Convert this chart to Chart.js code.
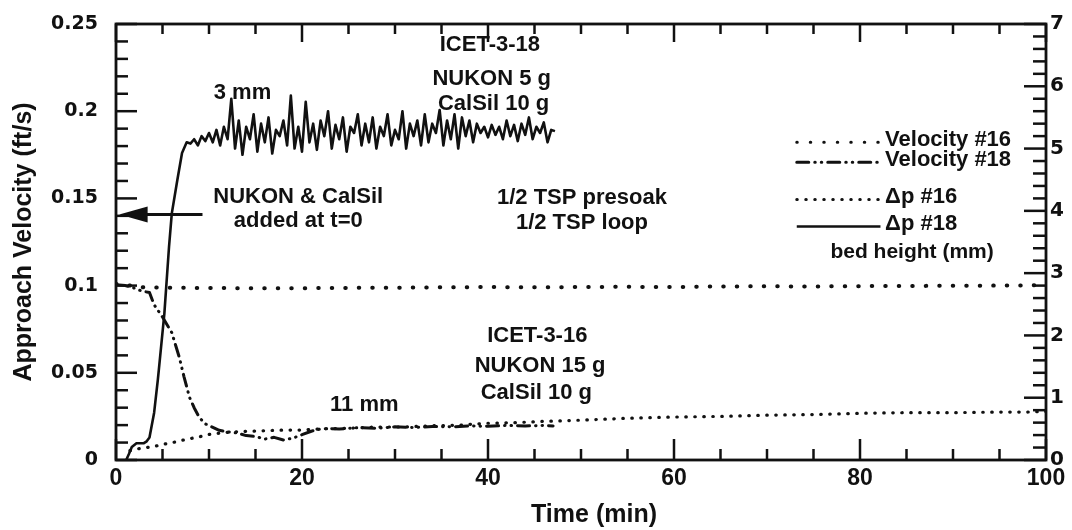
<!DOCTYPE html>
<html>
<head>
<meta charset="utf-8">
<script src="https://cdn.jsdelivr.net/npm/chart.js@4.4.1/dist/chart.umd.min.js"></script>
<style>
  html, body { margin: 0; padding: 0; background: #ffffff; }
  canvas { display: block; }
</style>
</head>
<body>
<canvas id="c" width="1072" height="530"></canvas>
<script>
// ---------------- DATA ----------------
// Velocity #16 (ft/s, left axis)
const vel16Time  = [0, 1, 2, 3, 5, 10, 15, 20, 25, 30, 35, 40, 45, 50, 55, 60, 65, 70, 75, 80, 85, 90, 95, 100];
const vel16Value = [0.101, 0.1005, 0.0995, 0.099, 0.0988, 0.0986, 0.0985, 0.0985, 0.0987, 0.0988, 0.099, 0.0992, 0.099, 0.0992, 0.0993, 0.0992, 0.0995, 0.0996, 0.0995, 0.0997, 0.0998, 0.0999, 0.1, 0.1002];

// Velocity #18 (ft/s, left axis)
const vel18Time  = [0, 1, 2, 2.7, 3.6, 4.1, 5.0, 6.0, 6.8, 7.3, 7.9, 8.4, 8.9, 9.5, 10.3, 11.1, 12, 13, 14, 15, 16, 17, 18, 19, 20, 21, 22, 23, 24, 26, 28, 30, 32, 34, 36, 38, 40, 42, 44, 46, 47];
const vel18Value = [0.1005, 0.1, 0.0985, 0.097, 0.096, 0.089, 0.082, 0.073, 0.059, 0.048, 0.036, 0.03, 0.025, 0.021, 0.019, 0.017, 0.0162, 0.0155, 0.014, 0.0135, 0.012, 0.013, 0.0115, 0.0125, 0.0145, 0.0165, 0.0178, 0.018, 0.0178, 0.0185, 0.0182, 0.019, 0.0186, 0.0192, 0.019, 0.0195, 0.0193, 0.0198, 0.0195, 0.0198, 0.0195];

// Δp #16 (right axis)
const dp16Time  = [1.5, 2.7, 3.9, 5, 6.4, 7.5, 8.9, 10, 11.1, 12.5, 14, 16, 18, 20, 22, 25, 28, 31, 34, 37, 40, 43, 46, 50, 55, 60, 65, 70, 75, 80, 85, 90, 95, 98, 100];
const dp16Value = [0.15, 0.19, 0.21, 0.25, 0.29, 0.33, 0.37, 0.41, 0.43, 0.45, 0.46, 0.47, 0.48, 0.48, 0.5, 0.51, 0.53, 0.53, 0.55, 0.56, 0.59, 0.6, 0.62, 0.64, 0.67, 0.69, 0.7, 0.72, 0.73, 0.75, 0.76, 0.76, 0.77, 0.77, 0.78];

// Δp #18 (right axis)
const dp18Time = [1.1, 1.4, 1.7, 2.2, 3.0, 3.3, 3.6, 4.1, 4.5, 4.6, 5.2, 5.7, 6.0, 6.6, 7.1, 7.6,
  8.0, 8.4, 8.8, 9.2, 9.6, 10.0, 10.4, 10.8, 11.2, 11.6, 12.0, 12.4, 12.8, 13.2, 13.6, 14.0, 14.4, 14.8, 15.2, 15.6,
  16.0, 16.4, 16.8, 17.2, 17.6, 18.0, 18.4, 18.8, 19.2, 19.6, 20.0, 20.4, 20.8, 21.2, 21.6, 22.0, 22.4, 22.8, 23.2, 23.6,
  24.0, 24.4, 24.8, 25.2, 25.6, 26.0, 26.4, 26.8, 27.2, 27.6, 28.0, 28.4, 28.8, 29.2, 29.6, 30.0, 30.4, 30.8, 31.2, 31.6,
  32.0, 32.4, 32.8, 33.2, 33.6, 34.0, 34.4, 34.8, 35.2, 35.6, 36.0, 36.4, 36.8, 37.2, 37.6, 38.0, 38.4, 38.8, 39.2, 39.6,
  40.0, 40.4, 40.8, 41.2, 41.6, 42.0, 42.4, 42.8, 43.2, 43.6, 44.0, 44.4, 44.8, 45.2, 45.6, 46.0, 46.4, 46.8, 47.2];
const dp18Value = [0, 0.1, 0.21, 0.27, 0.27, 0.3, 0.36, 0.76, 1.29, 1.44, 2.35, 3.42, 3.96, 4.5, 4.93, 5.1,
  5.08, 5.15, 5.05, 5.2, 5.12, 5.25, 5.1, 5.3, 5.05, 5.35, 5.15, 5.8, 5.0, 5.45, 4.9, 5.35, 5.15, 5.55, 4.95, 5.4,
  5.1, 5.5, 4.92, 5.3, 5.2, 5.45, 5.05, 5.85, 5.0, 5.35, 4.95, 5.75, 5.1, 5.4, 4.98, 5.45, 5.2, 5.6, 5.0, 5.38,
  5.15, 5.5, 4.95, 5.35, 5.25, 5.55, 5.05, 5.4, 5.1, 5.5, 5.0, 5.35, 5.2, 5.55, 5.05, 5.3, 5.15, 5.6, 5.0, 5.4,
  5.2, 5.45, 5.05, 5.55, 5.1, 5.4, 5.25, 5.62, 5.05, 5.45, 5.15, 5.55, 5.0, 5.5, 5.2, 5.45, 5.1, 5.4, 5.25, 5.35,
  5.18, 5.38, 5.22, 5.35, 5.15, 5.45, 5.2, 5.38, 5.12, 5.4, 5.22, 5.5, 5.15, 5.35, 5.25, 5.42, 5.1, 5.3, 5.28];

// Axis ticks
const xTicks = [0, 20, 40, 60, 80, 100];
const yLeftTicks = [0, 0.05, 0.1, 0.15, 0.2, 0.25];
const yRightTicks = [0, 1, 2, 3, 4, 5, 6, 7];

// Text annotations: [text, time, left-axis value at cap centre]
const annotations = [
  ['3 mm', 13.6, 0.2115],
  ['ICET-3-18', 40.2, 0.2391],
  ['NUKON 5 g', 40.4, 0.2195],
  ['CalSil 10 g', 40.6, 0.2052],
  ['NUKON & CalSil', 19.6, 0.1517],
  ['added at t=0', 19.6, 0.1379],
  ['1/2 TSP presoak', 50.1, 0.1511],
  ['1/2 TSP loop', 50.1, 0.1368],
  ['ICET-3-16', 45.3, 0.0724],
  ['NUKON 15 g', 45.6, 0.0552],
  ['CalSil 10 g', 45.2, 0.0397],
  ['11 mm', 26.7, 0.0328]
];
// Arrow: tip time, head base time, tail time, value
const arrowSpec = [0.35, 3.4, 9.3, 0.1408];

// Legend entries
const legendLabels = ['Velocity #16', 'Velocity #18', '\u0394p #16', '\u0394p #18'];
const legendNote = 'bed height (mm)';
const xTitle = 'Time (min)';

// ---------------- STYLE ----------------
const INK = '#111111';
const DJ = '"DejaVu Sans", sans-serif';
const LS = '"Liberation Sans", Arial, sans-serif';
const styles = {
  vel16: { borderWidth: 4, borderDash: [0.5, 13], borderCapStyle: 'round' },
  vel18: { borderWidth: 3, borderDash: [12, 6, 0.5, 6, 0.5, 6], borderCapStyle: 'round' },
  dp16:  { borderWidth: 3.2, borderDash: [0.5, 8.5], borderCapStyle: 'round' },
  dp18:  { borderWidth: 2.6, borderDash: [], borderCapStyle: 'butt' }
};

function pts(t, v) { return t.map((x, i) => ({ x: x, y: v[i] })); }
function ds(label, data, axis, st) {
  return Object.assign({
    label: label, data: data, yAxisID: axis, borderColor: INK,
    pointRadius: 0, tension: 0, fill: false, borderJoinStyle: 'round'
  }, st);
}

function capText(c, txt, px, py, size) {
  c.textBaseline = 'alphabetic';
  c.fillText(txt, px, py + size * 0.716 / 2);
}
function noPad(s) { s.paddingTop = 0; s.paddingBottom = 0; s.paddingLeft = 0; s.paddingRight = 0; }

const framePlugin = {
  id: 'frame',
  beforeDraw(chart) {
    const c = chart.ctx;
    c.save(); c.fillStyle = '#ffffff'; c.fillRect(0, 0, chart.width, chart.height); c.restore();
  },
  afterDatasetsDraw(chart) {
    const c = chart.ctx, a = chart.chartArea;
    const x = chart.scales.x, y = chart.scales.y, y1 = chart.scales.y1;
    c.save();
    c.strokeStyle = INK; c.fillStyle = INK; c.lineCap = 'butt';
    const line = (x1, y1_, x2, y2) => { c.beginPath(); c.moveTo(x1, y1_); c.lineTo(x2, y2); c.stroke(); };
    // frame
    c.lineWidth = 2.8;
    c.strokeRect(a.left, a.top, a.right - a.left, a.bottom - a.top);
    c.lineWidth = 2.5;
    for (let t = 0; t <= 100; t += 5) {
      const px = x.getPixelForValue(t);
      const major = t % 20 === 0;
      line(px, a.bottom, px, a.bottom - (major ? 21 : 11));
      line(px, a.top, px, a.top + (major ? 18 : 10));
    }
    for (let i = 0; i <= 25; i++) {
      const py = y.getPixelForValue(i * 0.01);
      const major = i % 5 === 0;
      line(a.left, py, a.left + (major ? 21 : 12), py);
    }
    for (let i = 0; i <= 35; i++) {
      const py = y1.getPixelForValue(i * 0.2);
      const major = i % 5 === 0;
      line(a.right, py, a.right - (major ? 22 : 13), py);
    }
    // annotations
    c.font = 'bold 22px ' + LS;
    c.textAlign = 'center';
    annotations.forEach(([txt, t, v]) => capText(c, txt, x.getPixelForValue(t), y.getPixelForValue(v), 22));
    // arrow
    const [tTip, tHead, tTail, vA] = arrowSpec;
    const ay = y.getPixelForValue(vA);
    const xTip = x.getPixelForValue(tTip), xHead = x.getPixelForValue(tHead), xTail = x.getPixelForValue(tTail);
    c.lineWidth = 3;
    line(xHead - 2, ay, xTail, ay);
    c.beginPath(); c.moveTo(xTip, ay); c.lineTo(xHead, ay - 8); c.lineTo(xHead, ay + 8); c.closePath(); c.fill();
    // legend
    const lx0 = x.getPixelForValue(73.2), lx1 = x.getPixelForValue(82.2), tx = x.getPixelForValue(82.7);
    const rowV = [0.1845, 0.173, 0.1517, 0.1362];
    const sampleV = [0.1822, 0.1707, 0.1494, 0.1339];
    const keys = ['vel16', 'vel18', 'dp16', 'dp18'];
    c.font = 'bold 22px ' + LS; c.textAlign = 'left';
    keys.forEach((k, i) => {
      const st = styles[k];
      const sy = y.getPixelForValue(sampleV[i]);
      c.save();
      c.lineWidth = Math.min(st.borderWidth, 3); c.setLineDash(st.borderDash); c.lineCap = st.borderCapStyle;
      line(lx0, sy, lx1, sy);
      c.restore();
      capText(c, legendLabels[i], tx, y.getPixelForValue(rowV[i]), 22);
    });
    c.textAlign = 'center';
    c.font = 'bold 21px ' + LS;
    capText(c, legendNote, x.getPixelForValue(85.6), y.getPixelForValue(0.1201), 21);
    // x-axis title (slightly right of centre as in the original)
    c.font = 'bold 25px ' + LS;
    capText(c, xTitle, x.getPixelForValue(51.4), 513, 25);
    c.restore();
  }
};

new Chart(document.getElementById('c'), {
  type: 'line',
  data: {
    datasets: [
      ds('Velocity #16', pts(vel16Time, vel16Value), 'y', styles.vel16),
      ds('Velocity #18', pts(vel18Time, vel18Value), 'y', styles.vel18),
      ds('\u0394p #16', pts(dp16Time, dp16Value), 'y1', styles.dp16),
      ds('\u0394p #18', pts(dp18Time, dp18Value), 'y1', styles.dp18)
    ]
  },
  options: {
    responsive: false,
    animation: false,
    layout: { padding: { left: 0, right: 0, top: 24, bottom: 0 } },
    plugins: { legend: { display: false }, tooltip: { enabled: false } },
    scales: {
      x: {
        type: 'linear', position: 'bottom', min: 0, max: 100,
        afterBuildTicks(s) { s.ticks = xTicks.map(v => ({ value: v })); },
        ticks: { color: INK, font: { family: LS, size: 23, weight: 'bold' }, padding: 5, maxRotation: 0, autoSkip: false },
        grid: { display: false, drawTicks: false }, border: { display: false },
        title: { display: false },
        afterFit(s) { s.height = 70; noPad(s); }
      },
      y: {
        type: 'linear', position: 'left', min: 0, max: 0.25,
        afterBuildTicks(s) { s.ticks = yLeftTicks.map(v => ({ value: v })); },
        ticks: { color: INK, font: { family: DJ, size: 19, weight: 'bold' }, padding: 18,
                 callback: v => String(Math.round(v * 100) / 100) },
        grid: { display: false, drawTicks: false }, border: { display: false },
        title: { display: true, text: 'Approach Velocity (ft/s)', color: INK, font: { family: LS, size: 25, weight: 'bold' }, padding: { top: 9, bottom: 0 } },
        afterFit(s) { s.width = 116; noPad(s); }
      },
      y1: {
        type: 'linear', position: 'right', min: 0, max: 7,
        afterBuildTicks(s) { s.ticks = yRightTicks.map(v => ({ value: v })); },
        ticks: { color: INK, font: { family: DJ, size: 20, weight: 'bold' }, padding: 4 },
        grid: { display: false, drawTicks: false }, border: { display: false },
        afterFit(s) { s.width = 26; noPad(s); }
      }
    }
  },
  plugins: [framePlugin]
});
</script>
</body>
</html>
